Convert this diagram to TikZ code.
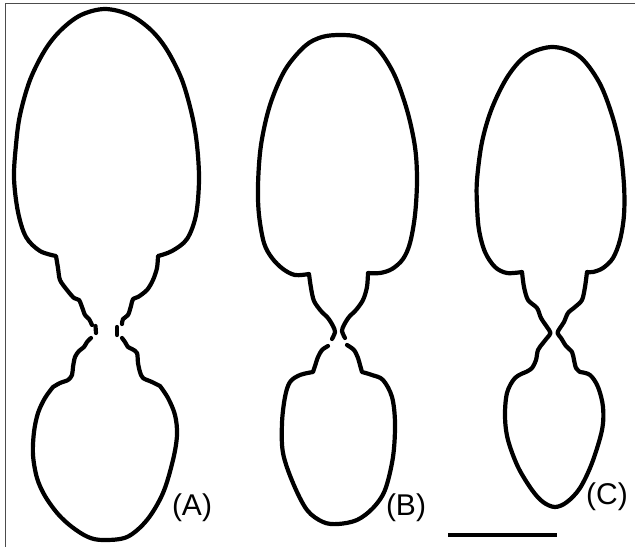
\documentclass[tikz,border=0pt]{standalone}
\usepackage{fontspec}
\setmainfont{Liberation Sans}
\begin{document}
\begin{tikzpicture}[x=1pt,y=-1pt,
   outline/.style={draw,line width=4.2pt,line join=round,line cap=round},
   panel label/.style={font=\fontsize{30}{32}\selectfont,inner sep=0pt},
   frame/.style={draw=black!70,line width=1pt}]

\useasboundingbox (0,0) rectangle (635,547);
\draw[frame] (635,3) -- (5,3) -- (5,547);

\draw[outline] plot[smooth,tension=0.5] coordinates {(92,325) (89,319) (85,315) (82,307) (79,300) (74,298)
   (67,290) (60,280) (58,268) (56,256)}
   -- plot[smooth,tension=0.55] coordinates {(56,256) (40,251) (26,237) (18,212) (14,178) (16,145) (20,115)
   (30,80) (45,50) (61,30) (81,15) (105,9) (130,15) (151,30) (167,50) (182,80)
   (192,115) (197,145) (199,180) (196,215) (187,239) (172,251) (158,256)}
   -- plot[smooth,tension=0.5] coordinates {(158,256) (157,268) (153,280) (147,290) (138,297) (133,299)
   (131,306) (128,315) (123,319) (122,324)};
\draw[outline] (95.5,326) -- (96,333);
\draw[outline] (117,327) -- (117,335);
\draw[outline] plot[smooth,tension=0.5] coordinates {(91,338) (87,342) (84,347) (79,351) (75,357) (73,367)
   (72,375) (68,380) (60,383) (53,387)}
   -- plot[smooth,tension=0.55] coordinates {(53,387) (45,398) (38,413) (34,432) (33,455) (37,478)
   (45,496) (58,514) (72,527) (88,537) (103,540) (127,537) (147,520) (163,493)
   (173,460) (177,435) (175,415) (168,398) (160,386)}
   -- plot[smooth,tension=0.5] coordinates {(160,386) (152,382) (143,378) (140,372) (138,363) (137,353)
   (132,349) (128,347) (125,342) (122,338)};

\draw[outline] plot[smooth,tension=0.5] coordinates {(332,339) (335,332) (333,326) (328,318) (321,311)
   (314,301) (311,288) (309,274)}
   -- plot[smooth,tension=0.55] coordinates {(309,274) (295,275) (283,269) (272,258) (264,243) (259,215)
   (258,185) (261,145) (270,105) (285,70) (305,46) (322,37) (340,35) (358,37) (377,48) (394,74)
   (407,110) (415,147) (417,180) (415,215) (410,243) (403,259) (392,269) (380,273)
   (368,273)}
   -- plot[smooth,tension=0.5] coordinates {(368,273) (367,287) (363,300) (356,310) (349,317) (344,325)
   (342,331) (345,338)};
\draw[outline] plot[smooth,tension=0.5] coordinates {(328,346) (322,350) (318,357) (315,366) (313,372)}
   -- plot[smooth,tension=0.55] coordinates {(313,372) (300,375) (290,382) (285,397) (282,423) (283,453)
   (293,483) (307,510) (323,522) (338,524) (357,520) (373,508) (385,490) (393,457)
   (395,423) (392,397) (383,380) (372,375) (362,372)}
   -- plot[smooth,tension=0.5] coordinates {(362,372) (360,365) (358,358) (354,350) (347,345)};

\draw[outline] plot[smooth,tension=0.55] coordinates {(522,272) (507,273) (495,267) (485,252) (479,230)
   (477,205) (477,180) (482,142) (492,108) (508,76) (527,55) (553,47) (579,56)
   (599,82) (612,115) (620,148) (624,185) (624,215) (620,240) (613,258) (603,268)
   (593,272) (587,272)}
   -- plot[smooth,tension=0.5] coordinates {(587,272) (585,287) (582,300) (575,307) (568,313) (564,322)
   (560,328) (557.5,333) (561,338) (566,346) (572,352) (574,360) (576,368) (580,372)}
   -- plot[smooth,tension=0.55] coordinates {(580,372) (590,375) (598,387) (603,407) (602,430) (592,463)
   (580,488) (567,502) (555,507) (543,502) (532,490) (518,467) (508,440) (505,417)
   (507,393) (515,378) (526,372)}
   -- plot[smooth,tension=0.5] coordinates {(526,372) (532,368) (536,360) (538,350) (543,343) (547,338)
   (550.5,333) (547,327) (541,318) (537,308) (528,300) (524,287) (522,272)} -- cycle;

\node[panel label] (labelA) at (192,508) {(A)};
\node[panel label] (labelB) at (406,508) {(B)};
\node[panel label] (labelC) at (607,497) {(C)};

\draw[line width=4.5pt] (448,535) -- (557,535);

\end{tikzpicture}
\end{document}
